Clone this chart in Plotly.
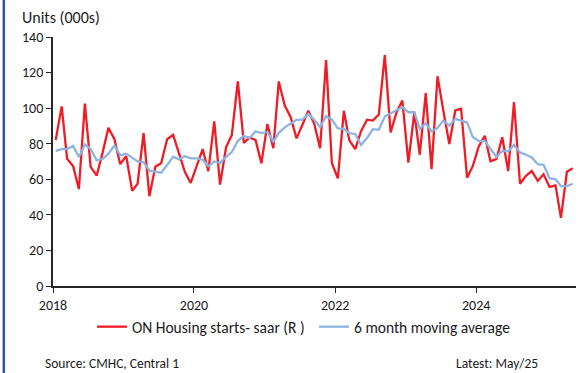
import pandas as pd
import plotly.graph_objects as go

# Monthly data Jan 2018 - May 2025
start_month = "2018-01-01"
n_months = 89

housing_starts = [
    82, 101, 71.5, 67.5, 54.5, 102.5, 67, 62, 75, 89, 82.5, 68.5,          # 2018
    73, 53.5, 57.5, 86, 50.5, 67, 69, 82.5, 85, 75, 64, 58,               # 2019
    67.5, 77, 64.5, 92.5, 57, 78, 85, 115, 80.5, 83.5, 82, 69,            # 2020
    91, 77.5, 115, 101.5, 95, 83, 90.5, 98.5, 91, 77.5, 127, 69,          # 2021
    60.5, 98.5, 82, 77, 87, 93.5, 93, 96.4, 129.8, 86.4, 97.7, 104.3,     # 2022
    69.4, 97.7, 73.8, 108.5, 65.7, 117.9, 98.7, 79.8, 98.7, 99.6, 60.9, 67.5,  # 2023
    78.6, 84.5, 70.2, 71.3, 83.6, 64.7, 103.4, 57.5, 61.9, 64.7, 59.1, 62.8,   # 2024
    55.7, 56.6, 38.3, 64.3, 66.2,                                          # 2025
]

moving_avg = [
    76, 77, 77, 78.8, 72.5, 79.5, 77, 70.7, 71.5, 74.4, 79, 73.4,
    74.4, 72, 70, 69.6, 64.8, 64.2, 63.7, 68, 72.7, 71.2, 73, 71.8,
    71.8, 71, 67.4, 70, 69.2, 72.6, 75.3, 81.5, 84.5, 83.2, 87, 86,
    86.6, 81.2, 86, 89.2, 91.3, 93.4, 93.5, 96.8, 93.4, 89.3, 95.5, 93.6,
    88.6, 88.3, 86, 85.5, 79.3, 83.2, 88.2, 87.8, 95.3, 97.2, 98.7, 100.6,
    97.7, 97.7, 88.3, 91.5, 87, 88.9, 93, 90.2, 94, 93, 92, 83.6,
    81.5, 81.5, 77.5, 72.6, 76, 75.7, 79.4, 75.1, 73.8, 72.3, 68.5, 68.1,
    60.6, 60, 56.2, 56.2, 57.5,
]

y_ticks = [0, 20, 40, 60, 80, 100, 120, 140]
x_tick_labels = ["2018", "2020", "2022", "2024"]

dates = pd.date_range(start=start_month, periods=n_months, freq="MS") + pd.Timedelta(days=14)

FONT = "Calibri, Carlito, Lato, sans-serif"
AXIS_COLOR = "#262626"

fig = go.Figure()
fig.add_trace(go.Scatter(
    x=dates, y=housing_starts, mode="lines",
    name="ON Housing starts- saar (R )",
    line=dict(color="#EE1C25", width=2.3),
))
fig.add_trace(go.Scatter(
    x=dates, y=moving_avg, mode="lines",
    name="6 month moving average",
    line=dict(color="#8DB3E2", width=2.3),
))

fig.update_layout(
    width=581, height=373,
    margin=dict(l=53, r=5, t=37, b=87),
    paper_bgcolor="white", plot_bgcolor="white",
    font=dict(family=FONT, size=13, color="#1a1a1a"),
    showlegend=True,
    legend=dict(
        orientation="h", x=0.0746, xanchor="left", y=-0.165, yanchor="middle",
        font=dict(family=FONT, size=15.5, color="#1a1a1a"),
        itemwidth=30, tracegroupgap=0, bgcolor="rgba(0,0,0,0)",
        entrywidth=177, entrywidthmode="pixels",
    ),
    xaxis=dict(
        type="date",
        range=["2018-01-01", "2025-06-01"],
        tickvals=[f"{y}-01-01" for y in x_tick_labels],
        ticktext=x_tick_labels,
        ticks="outside", ticklen=5, tickwidth=1.4, tickcolor=AXIS_COLOR,
        showline=True, linecolor=AXIS_COLOR, linewidth=1.8,
        showgrid=False, zeroline=False,
        tickfont=dict(family=FONT, size=14),
    ),
    yaxis=dict(
        range=[0, 140],
        tickvals=y_ticks,
        ticks="outside", ticklen=5, tickwidth=1.4, tickcolor=AXIS_COLOR,
        showline=True, linecolor=AXIS_COLOR, linewidth=1.8,
        showgrid=False, zeroline=False,
        tickfont=dict(family=FONT, size=14),
    ),
    annotations=[
        dict(text="Units (000s)", xref="paper", yref="paper",
             x=-0.063, y=1.08, xanchor="left", yanchor="middle",
             showarrow=False, font=dict(family=FONT, size=16)),
        dict(text="Source: CMHC, Central 1", xref="paper", yref="paper",
             x=-0.019, y=-0.313, xanchor="left", yanchor="middle",
             showarrow=False, font=dict(family=FONT, size=13.5)),
        dict(text="Latest: May/25", xref="paper", yref="paper",
             x=0.931, y=-0.313, xanchor="right", yanchor="middle",
             showarrow=False, font=dict(family=FONT, size=13.5)),
    ],
    shapes=[
        dict(type="line", xref="paper", yref="paper",
             x0=-0.094, x1=-0.094, y0=-0.4, y1=1.2,
             line=dict(color="#2F5597", width=2.5)),
    ],
)

fig.write_html("out.html")
